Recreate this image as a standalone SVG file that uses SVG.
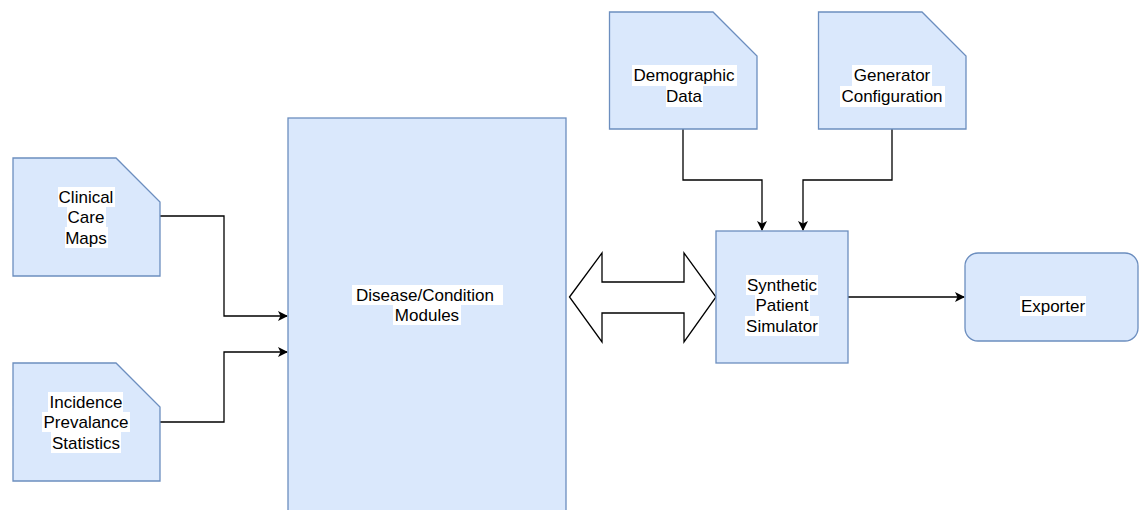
<svg xmlns="http://www.w3.org/2000/svg" width="1140" height="510" viewBox="0 0 1140 510">
<style>
.box{fill:#dae8fc;stroke:#6c8ebf;stroke-width:1.3}
.bg{fill:#ffffff}
.t{font-family:"Liberation Sans",Arial,sans-serif;font-size:17px;fill:#000;text-anchor:middle;dominant-baseline:central}
.c{fill:none;stroke:#000;stroke-width:1.3}
</style>
<defs>
<marker id="ah" viewBox="0 0 10 10" refX="9" refY="5" markerWidth="10" markerHeight="10" markerUnits="userSpaceOnUse" orient="auto">
<path d="M0,0 L10,5 L0,10 L2.5,5 Z" fill="#000"/>
</marker>
</defs>
<rect width="1140" height="510" fill="#fff"/>

<g id="connectors">
<path class="c" d="M160,216 H224 V316 H287" marker-end="url(#ah)"/>
<path class="c" d="M160,422 H224 V352 H287" marker-end="url(#ah)"/>
<path class="c" d="M683,129 V180 H762 V230" marker-end="url(#ah)"/>
<path class="c" d="M892,129 V180 H803 V230" marker-end="url(#ah)"/>
<path class="c" d="M848,297 H964" marker-end="url(#ah)"/>
<path d="M569.5,297 L602,253 V282 H684 V253 L716,297 L684,342 V313 H602 V342 Z" fill="#fff" stroke="#000" stroke-width="1.3"/>
</g>

<g id="clinical">
<path class="box" d="M13,158 H116 L160,202 V276 H13 Z"/>
<rect class="bg" x="58" y="187" width="57" height="20"/>
<rect class="bg" x="67" y="207" width="39" height="20"/>
<rect class="bg" x="65" y="227" width="43" height="21"/>
<text class="t" x="86" y="197">Clinical</text>
<text class="t" x="86" y="217.5">Care</text>
<text class="t" x="86" y="238">Maps</text>
</g>

<g id="incidence">
<path class="box" d="M13,363 H116 L160,407 V481 H13 Z"/>
<rect class="bg" x="48" y="392" width="75" height="20"/>
<rect class="bg" x="42" y="412" width="88" height="20"/>
<rect class="bg" x="51" y="432" width="70" height="21"/>
<text class="t" x="86" y="402">Incidence</text>
<text class="t" x="86" y="422.5">Prevalance</text>
<text class="t" x="86" y="443">Statistics</text>
</g>

<g id="disease">
<rect class="box" x="288" y="118" width="278" height="400"/>
<rect class="bg" x="352" y="285" width="151" height="20"/>
<rect class="bg" x="393" y="305" width="68" height="20"/>
<text class="t" x="425" y="295">Disease/Condition</text>
<text class="t" x="427" y="315">Modules</text>
</g>

<g id="demographic">
<path class="box" d="M609.5,12 H713 L757,56 V129 H609.5 Z"/>
<rect class="bg" x="632" y="65" width="105" height="21"/>
<rect class="bg" x="666" y="86" width="37" height="21"/>
<text class="t" x="684" y="75">Demographic</text>
<text class="t" x="684" y="96">Data</text>
</g>

<g id="generator">
<path class="box" d="M818.5,12 H922 L966,56 V129 H818.5 Z"/>
<rect class="bg" x="852" y="65" width="80" height="21"/>
<rect class="bg" x="840" y="86" width="105" height="21"/>
<text class="t" x="892" y="75">Generator</text>
<text class="t" x="892" y="96">Configuration</text>
</g>

<g id="simulator">
<rect class="box" x="716" y="231" width="132" height="132"/>
<rect class="bg" x="746" y="275" width="72" height="20"/>
<rect class="bg" x="755" y="295" width="55" height="21"/>
<rect class="bg" x="745" y="316" width="74" height="20"/>
<text class="t" x="782" y="285">Synthetic</text>
<text class="t" x="782" y="305.5">Patient</text>
<text class="t" x="782" y="326">Simulator</text>
</g>

<g id="exporter">
<rect class="box" x="965" y="253" width="173" height="88" rx="13" ry="13"/>
<rect class="bg" x="1020" y="296" width="66" height="20"/>
<text class="t" x="1053" y="306">Exporter</text>
</g>
</svg>
